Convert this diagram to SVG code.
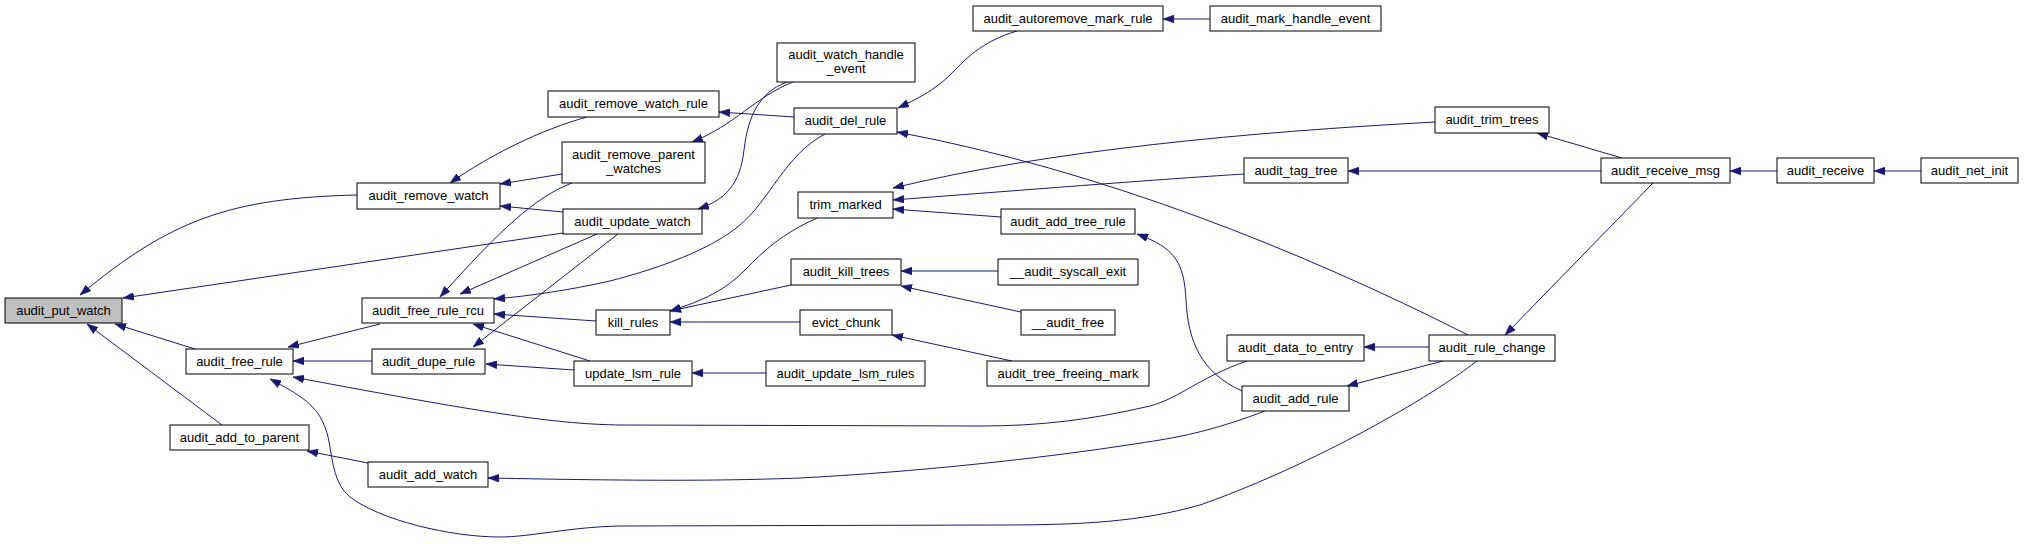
<svg xmlns="http://www.w3.org/2000/svg" width="2033" height="544" viewBox="0 0 2033 544">
<style>
.node rect{fill:#ffffff;stroke:#000000;stroke-width:1}
.node.hl rect{fill:#bfbfbf}
.node text{font-family:"Liberation Sans",Arial,Helvetica,sans-serif;font-size:13px;fill:#000000;text-anchor:middle}
.edges path{fill:none;stroke:#191970;stroke-width:1;marker-end:url(#arr)}
</style>
<defs>
<marker id="arr" viewBox="0 0 11 8" refX="11" refY="4" markerWidth="11" markerHeight="8" markerUnits="userSpaceOnUse" orient="auto">
<path d="M0,0 L11,4 L0,8 z" fill="#191970" stroke="#191970" stroke-width="0.5"/>
</marker>
</defs>
<rect width="2033" height="544" fill="#ffffff"/>
<g class="edges">
<path d="M357,195 C230,198 170,220 80,295"/>
<path d="M563,233 L123,298"/>
<path d="M195,349 L115,324"/>
<path d="M222,425 L87,324"/>
<path d="M587,117 C540,130 490,155 450,183"/>
<path d="M562,174 L500,184"/>
<path d="M563,212 L500,206"/>
<path d="M794,117 L719,112"/>
<path d="M793,82 C755,97 735,125 692,142"/>
<path d="M787,82 C760,92 748,115 744,150 C740,185 725,200 698,209"/>
<path d="M1017,31 C980,42 965,60 950,75 C935,90 915,100 898,108"/>
<path d="M1468,335 C1300,250 1100,170 897,132"/>
<path d="M1210,19 L1163,19"/>
<path d="M380,324 L288,347"/>
<path d="M372,361 L293,361"/>
<path d="M1247,361 C1200,377 1180,398 1150,406 C1090,420 1040,426 980,426 L620,425 C560,424 500,416 293,377"/>
<path d="M1477,361 C1420,405 1300,470 1200,505 C1140,522 1080,525 1000,525 L620,526 C570,527 530,537 500,537 C450,537 380,520 350,497 C330,480 333,450 326,430 C318,405 300,395 270,379"/>
<path d="M572,183 C535,197 500,230 440,297"/>
<path d="M597,234 L460,294"/>
<path d="M825,134 C785,155 770,200 740,225 C710,250 660,268 610,281 C570,290 530,296 494,299"/>
<path d="M596,321 L494,314"/>
<path d="M590,361 L473,324"/>
<path d="M618,234 L473,347"/>
<path d="M574,370 L486,364"/>
<path d="M368,463 L307,451"/>
<path d="M1265,411 C1220,428 1190,435 1160,440 C1080,453 950,470 800,478 C720,481 640,481 488,478"/>
<path d="M766,373 L692,373"/>
<path d="M791,285 L670,311"/>
<path d="M800,322 L670,322"/>
<path d="M817,218 C780,235 765,250 745,270 C725,290 705,300 670,311"/>
<path d="M1435,122 C1250,132 1050,150 893,188"/>
<path d="M1244,174 C1150,180 1050,188 893,200"/>
<path d="M1001,217 L893,209"/>
<path d="M998,271 L901,271"/>
<path d="M1021,312 L901,286"/>
<path d="M1012,361 L892,335"/>
<path d="M1242,391 C1200,372 1188,340 1186,300 C1184,262 1175,248 1137,234"/>
<path d="M1429,347 L1364,347"/>
<path d="M1443,361 L1347,386"/>
<path d="M1622,158 L1537,133"/>
<path d="M1601,171 L1348,171"/>
<path d="M1653,183 L1505,335"/>
<path d="M1777,171 L1730,171"/>
<path d="M1921,171 L1874,171"/>
</g>
<g id="audit_put_watch" class="node hl"><rect x="5" y="298" width="117" height="25"/><text x="63.5" y="315">audit_put_watch</text></g>
<g id="audit_remove_watch" class="node"><rect x="357" y="183" width="143" height="26"/><text x="428.5" y="200">audit_remove_watch</text></g>
<g id="audit_free_rule" class="node"><rect x="186" y="349" width="107" height="25"/><text x="239.5" y="366">audit_free_rule</text></g>
<g id="audit_add_to_parent" class="node"><rect x="170" y="425" width="139" height="25"/><text x="239.5" y="442">audit_add_to_parent</text></g>
<g id="audit_remove_watch_rule" class="node"><rect x="548" y="91" width="171" height="26"/><text x="633.5" y="108">audit_remove_watch_rule</text></g>
<g id="audit_remove_parent_watches" class="node"><rect x="562" y="142" width="143" height="41"/><text x="633.5" y="159">audit_remove_parent</text><text x="633.5" y="173">_watches</text></g>
<g id="audit_update_watch" class="node"><rect x="563" y="209" width="139" height="25"/><text x="632.5" y="226">audit_update_watch</text></g>
<g id="audit_free_rule_rcu" class="node"><rect x="362" y="298" width="132" height="25"/><text x="428" y="315">audit_free_rule_rcu</text></g>
<g id="audit_dupe_rule" class="node"><rect x="372" y="349" width="113" height="25"/><text x="428.5" y="366">audit_dupe_rule</text></g>
<g id="audit_add_watch" class="node"><rect x="368" y="462" width="120" height="25"/><text x="428" y="479">audit_add_watch</text></g>
<g id="audit_watch_handle_event" class="node"><rect x="777" y="43" width="138" height="39"/><text x="846" y="59">audit_watch_handle</text><text x="846" y="73">_event</text></g>
<g id="audit_del_rule" class="node"><rect x="794" y="108" width="103" height="26"/><text x="845.5" y="125">audit_del_rule</text></g>
<g id="trim_marked" class="node"><rect x="798" y="192" width="95" height="26"/><text x="845.5" y="209">trim_marked</text></g>
<g id="kill_rules" class="node"><rect x="596" y="310" width="74" height="25"/><text x="633" y="327">kill_rules</text></g>
<g id="update_lsm_rule" class="node"><rect x="574" y="361" width="118" height="25"/><text x="633" y="378">update_lsm_rule</text></g>
<g id="audit_kill_trees" class="node"><rect x="791" y="259" width="110" height="26"/><text x="846" y="276">audit_kill_trees</text></g>
<g id="evict_chunk" class="node"><rect x="800" y="310" width="92" height="25"/><text x="846" y="327">evict_chunk</text></g>
<g id="audit_update_lsm_rules" class="node"><rect x="766" y="361" width="159" height="25"/><text x="845.5" y="378">audit_update_lsm_rules</text></g>
<g id="audit_autoremove_mark_rule" class="node"><rect x="973" y="6" width="190" height="25"/><text x="1068" y="23">audit_autoremove_mark_rule</text></g>
<g id="audit_mark_handle_event" class="node"><rect x="1210" y="6" width="171" height="25"/><text x="1295.5" y="23">audit_mark_handle_event</text></g>
<g id="audit_trim_trees" class="node"><rect x="1435" y="107" width="114" height="26"/><text x="1492" y="124">audit_trim_trees</text></g>
<g id="audit_tag_tree" class="node"><rect x="1244" y="158" width="104" height="25"/><text x="1296" y="175">audit_tag_tree</text></g>
<g id="audit_add_tree_rule" class="node"><rect x="1001" y="209" width="134" height="25"/><text x="1068" y="226">audit_add_tree_rule</text></g>
<g id="__audit_syscall_exit" class="node"><rect x="998" y="259" width="140" height="26"/><text x="1068" y="276">__audit_syscall_exit</text></g>
<g id="__audit_free" class="node"><rect x="1021" y="310" width="94" height="25"/><text x="1068" y="327">__audit_free</text></g>
<g id="audit_tree_freeing_mark" class="node"><rect x="987" y="361" width="162" height="25"/><text x="1068" y="378">audit_tree_freeing_mark</text></g>
<g id="audit_data_to_entry" class="node"><rect x="1227" y="335" width="137" height="26"/><text x="1295.5" y="352">audit_data_to_entry</text></g>
<g id="audit_add_rule" class="node"><rect x="1242" y="386" width="107" height="25"/><text x="1295.5" y="403">audit_add_rule</text></g>
<g id="audit_rule_change" class="node"><rect x="1429" y="335" width="126" height="26"/><text x="1492" y="352">audit_rule_change</text></g>
<g id="audit_receive_msg" class="node"><rect x="1601" y="158" width="129" height="25"/><text x="1665.5" y="175">audit_receive_msg</text></g>
<g id="audit_receive" class="node"><rect x="1777" y="158" width="97" height="25"/><text x="1825.5" y="175">audit_receive</text></g>
<g id="audit_net_init" class="node"><rect x="1921" y="158" width="97" height="25"/><text x="1969.5" y="175">audit_net_init</text></g>
</svg>
